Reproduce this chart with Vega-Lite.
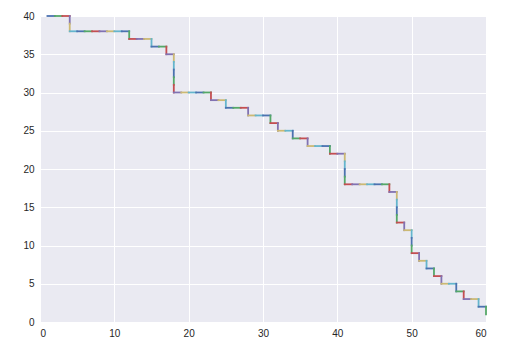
{
  "$schema": "https://vega.github.io/schema/vega-lite/v6.json",
  "width": 446,
  "height": 306,
  "autosize": "none",
  "padding": {"left": 40, "top": 16, "right": 29, "bottom": 29},
  "background": "white",
  "config": {
    "view": {"fill": "#EAEAF2", "stroke": null},
    "axis": {
      "domain": false,
      "ticks": false,
      "grid": true,
      "gridColor": "white",
      "gridWidth": 1,
      "labelFont": "Liberation Sans",
      "labelFontSize": 10,
      "labelColor": "#262626",
      "labelPadding": 6,
      "title": null
    }
  },
  "data": {
    "values": [
      {"i":0,"x":1,"x2":2,"y":40,"y2":40},
      {"i":1,"x":2,"x2":3,"y":40,"y2":40},
      {"i":2,"x":3,"x2":4,"y":40,"y2":40},
      {"i":3,"x":4,"x2":4,"y":40,"y2":39},
      {"i":4,"x":4,"x2":4,"y":39,"y2":38},
      {"i":5,"x":4,"x2":5,"y":38,"y2":38},
      {"i":6,"x":5,"x2":6,"y":38,"y2":38},
      {"i":7,"x":6,"x2":7,"y":38,"y2":38},
      {"i":8,"x":7,"x2":8,"y":38,"y2":38},
      {"i":9,"x":8,"x2":9,"y":38,"y2":38},
      {"i":10,"x":9,"x2":10,"y":38,"y2":38},
      {"i":11,"x":10,"x2":11,"y":38,"y2":38},
      {"i":12,"x":11,"x2":12,"y":38,"y2":38},
      {"i":13,"x":12,"x2":12,"y":38,"y2":37},
      {"i":14,"x":12,"x2":13,"y":37,"y2":37},
      {"i":15,"x":13,"x2":14,"y":37,"y2":37},
      {"i":16,"x":14,"x2":15,"y":37,"y2":37},
      {"i":17,"x":15,"x2":15,"y":37,"y2":36},
      {"i":18,"x":15,"x2":16,"y":36,"y2":36},
      {"i":19,"x":16,"x2":17,"y":36,"y2":36},
      {"i":20,"x":17,"x2":17,"y":36,"y2":35},
      {"i":21,"x":17,"x2":18,"y":35,"y2":35},
      {"i":22,"x":18,"x2":18,"y":35,"y2":34},
      {"i":23,"x":18,"x2":18,"y":34,"y2":33},
      {"i":24,"x":18,"x2":18,"y":33,"y2":32},
      {"i":25,"x":18,"x2":18,"y":32,"y2":31},
      {"i":26,"x":18,"x2":18,"y":31,"y2":30},
      {"i":27,"x":18,"x2":19,"y":30,"y2":30},
      {"i":28,"x":19,"x2":20,"y":30,"y2":30},
      {"i":29,"x":20,"x2":21,"y":30,"y2":30},
      {"i":30,"x":21,"x2":22,"y":30,"y2":30},
      {"i":31,"x":22,"x2":23,"y":30,"y2":30},
      {"i":32,"x":23,"x2":23,"y":30,"y2":29},
      {"i":33,"x":23,"x2":24,"y":29,"y2":29},
      {"i":34,"x":24,"x2":25,"y":29,"y2":29},
      {"i":35,"x":25,"x2":25,"y":29,"y2":28},
      {"i":36,"x":25,"x2":26,"y":28,"y2":28},
      {"i":37,"x":26,"x2":27,"y":28,"y2":28},
      {"i":38,"x":27,"x2":28,"y":28,"y2":28},
      {"i":39,"x":28,"x2":28,"y":28,"y2":27},
      {"i":40,"x":28,"x2":29,"y":27,"y2":27},
      {"i":41,"x":29,"x2":30,"y":27,"y2":27},
      {"i":42,"x":30,"x2":31,"y":27,"y2":27},
      {"i":43,"x":31,"x2":31,"y":27,"y2":26},
      {"i":44,"x":31,"x2":32,"y":26,"y2":26},
      {"i":45,"x":32,"x2":32,"y":26,"y2":25},
      {"i":46,"x":32,"x2":33,"y":25,"y2":25},
      {"i":47,"x":33,"x2":34,"y":25,"y2":25},
      {"i":48,"x":34,"x2":34,"y":25,"y2":24},
      {"i":49,"x":34,"x2":35,"y":24,"y2":24},
      {"i":50,"x":35,"x2":36,"y":24,"y2":24},
      {"i":51,"x":36,"x2":36,"y":24,"y2":23},
      {"i":52,"x":36,"x2":37,"y":23,"y2":23},
      {"i":53,"x":37,"x2":38,"y":23,"y2":23},
      {"i":54,"x":38,"x2":39,"y":23,"y2":23},
      {"i":55,"x":39,"x2":39,"y":23,"y2":22},
      {"i":56,"x":39,"x2":40,"y":22,"y2":22},
      {"i":57,"x":40,"x2":41,"y":22,"y2":22},
      {"i":58,"x":41,"x2":41,"y":22,"y2":21},
      {"i":59,"x":41,"x2":41,"y":21,"y2":20},
      {"i":60,"x":41,"x2":41,"y":20,"y2":19},
      {"i":61,"x":41,"x2":41,"y":19,"y2":18},
      {"i":62,"x":41,"x2":42,"y":18,"y2":18},
      {"i":63,"x":42,"x2":43,"y":18,"y2":18},
      {"i":64,"x":43,"x2":44,"y":18,"y2":18},
      {"i":65,"x":44,"x2":45,"y":18,"y2":18},
      {"i":66,"x":45,"x2":46,"y":18,"y2":18},
      {"i":67,"x":46,"x2":47,"y":18,"y2":18},
      {"i":68,"x":47,"x2":47,"y":18,"y2":17},
      {"i":69,"x":47,"x2":48,"y":17,"y2":17},
      {"i":70,"x":48,"x2":48,"y":17,"y2":16},
      {"i":71,"x":48,"x2":48,"y":16,"y2":15},
      {"i":72,"x":48,"x2":48,"y":15,"y2":14},
      {"i":73,"x":48,"x2":48,"y":14,"y2":13},
      {"i":74,"x":48,"x2":49,"y":13,"y2":13},
      {"i":75,"x":49,"x2":49,"y":13,"y2":12},
      {"i":76,"x":49,"x2":50,"y":12,"y2":12},
      {"i":77,"x":50,"x2":50,"y":12,"y2":11},
      {"i":78,"x":50,"x2":50,"y":11,"y2":10},
      {"i":79,"x":50,"x2":50,"y":10,"y2":9},
      {"i":80,"x":50,"x2":51,"y":9,"y2":9},
      {"i":81,"x":51,"x2":51,"y":9,"y2":8},
      {"i":82,"x":51,"x2":52,"y":8,"y2":8},
      {"i":83,"x":52,"x2":52,"y":8,"y2":7},
      {"i":84,"x":52,"x2":53,"y":7,"y2":7},
      {"i":85,"x":53,"x2":53,"y":7,"y2":6},
      {"i":86,"x":53,"x2":54,"y":6,"y2":6},
      {"i":87,"x":54,"x2":54,"y":6,"y2":5},
      {"i":88,"x":54,"x2":55,"y":5,"y2":5},
      {"i":89,"x":55,"x2":56,"y":5,"y2":5},
      {"i":90,"x":56,"x2":56,"y":5,"y2":4},
      {"i":91,"x":56,"x2":57,"y":4,"y2":4},
      {"i":92,"x":57,"x2":57,"y":4,"y2":3},
      {"i":93,"x":57,"x2":58,"y":3,"y2":3},
      {"i":94,"x":58,"x2":59,"y":3,"y2":3},
      {"i":95,"x":59,"x2":59,"y":3,"y2":2},
      {"i":96,"x":59,"x2":60,"y":2,"y2":2},
      {"i":97,"x":60,"x2":60,"y":2,"y2":1}
    ]
  },
  "mark": {"type": "rule", "strokeWidth": 1.8, "strokeCap": "square", "clip": false},
  "encoding": {
    "x": {"field": "x", "type": "quantitative", "scale": {"domain": [0, 60], "nice": false, "zero": false}, "axis": {"values": [0, 10, 20, 30, 40, 50, 60]}},
    "x2": {"field": "x2"},
    "y": {"field": "y", "type": "quantitative", "scale": {"domain": [0, 40], "nice": false, "zero": false}, "axis": {"values": [0, 5, 10, 15, 20, 25, 30, 35, 40]}},
    "y2": {"field": "y2"},
    "color": {"field": "i", "type": "nominal", "scale": {"range": ["#4C72B0", "#55A868", "#C44E52", "#8172B2", "#CCB974", "#64B5CD"]}, "legend": null}
  }
}
